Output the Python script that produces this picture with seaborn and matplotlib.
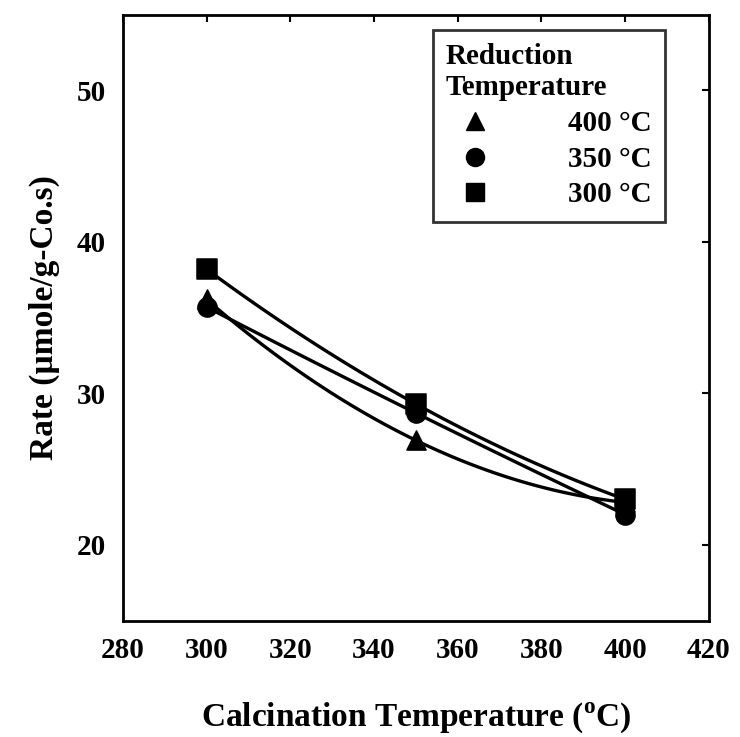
import numpy as np
import pandas as pd
import matplotlib
matplotlib.use("Agg")
import matplotlib.pyplot as plt
import seaborn as sns
from matplotlib.lines import Line2D

calcination = [300, 350, 400]
rate_400 = [36.2, 26.9, 22.8]
rate_350 = [35.7, 28.7, 22.0]
rate_300 = [38.2, 29.3, 23.0]
labels = ["400 \u00b0C", "350 \u00b0C", "300 \u00b0C"]
markers = ["^", "o", "s"]

sns.set_theme(style="white")
plt.rcParams['font.family'] = ['Liberation Serif', 'DejaVu Serif']
plt.rcParams['font.weight'] = 'bold'
plt.rcParams['text.color'] = 'black'
plt.rcParams['axes.labelcolor'] = 'black'
plt.rcParams['mathtext.fontset'] = 'custom'
plt.rcParams['mathtext.rm'] = 'Liberation Serif:bold'

fig = plt.figure(figsize=(7.4, 7.37), dpi=100)
ax = fig.add_axes([0.166, 0.158, 0.792, 0.822])

series = [rate_400, rate_350, rate_300]
rows = []
for lab, vals in zip(labels, series):
    for x, y in zip(calcination, vals):
        rows.append({"x": x, "y": y, "s": lab})
df = pd.DataFrame(rows)

for lab, vals, m in zip(labels, series, markers):
    coef = np.polyfit(calcination, vals, 2)
    xs = np.linspace(calcination[0], calcination[-1], 100)
    sns.lineplot(x=xs, y=np.polyval(coef, xs), ax=ax, color="black", lw=2.4)
    sub = df[df["s"] == lab]
    sns.scatterplot(data=sub, x="x", y="y", marker=m, s=190, color="black",
                    edgecolor="black", ax=ax, zorder=5, legend=False)

ax.set_xlim(280, 420)
ax.set_ylim(15, 55)
ax.set_xticks(range(280, 421, 20))
ax.set_yticks([20, 30, 40, 50])
ax.tick_params(direction="in", length=5, width=1.5, top=True, right=True,
               labelsize=21, pad=12, colors="black")
ax.tick_params(axis="y", pad=12)
for lab in ax.get_xticklabels() + ax.get_yticklabels():
    lab.set_fontweight("bold")
for sp in ax.spines.values():
    sp.set_color("black")
    sp.set_linewidth(2)

ax.set_xlabel("Calcination Temperature ($^{\\mathrm{o}}$C)", fontsize=24,
              fontweight="bold", labelpad=26, color="black")
ax.set_ylabel("Rate (\u00b5mole/g-Co.s)", fontsize=24, fontweight="bold",
              labelpad=12, color="black")

handles = [Line2D([], [], marker=m, color="black", linestyle="none",
                  markersize=13) for m in markers]
leg = ax.legend(handles, labels, title="Reduction\nTemperature",
                loc="upper right", bbox_to_anchor=(0.925, 0.975),
                borderaxespad=0.0,
                frameon=True, fancybox=False, edgecolor="black",
                prop={"size": 21, "weight": "bold"},
                title_fontproperties={"size": 21, "weight": "bold"},
                handletextpad=2.2, labelspacing=0.3, borderpad=0.45,
                labelcolor="black")
leg.get_title().set_color("black")
leg._legend_box.align = "left"
leg.get_frame().set_linewidth(2)

fig.savefig("out.png", dpi=100)
